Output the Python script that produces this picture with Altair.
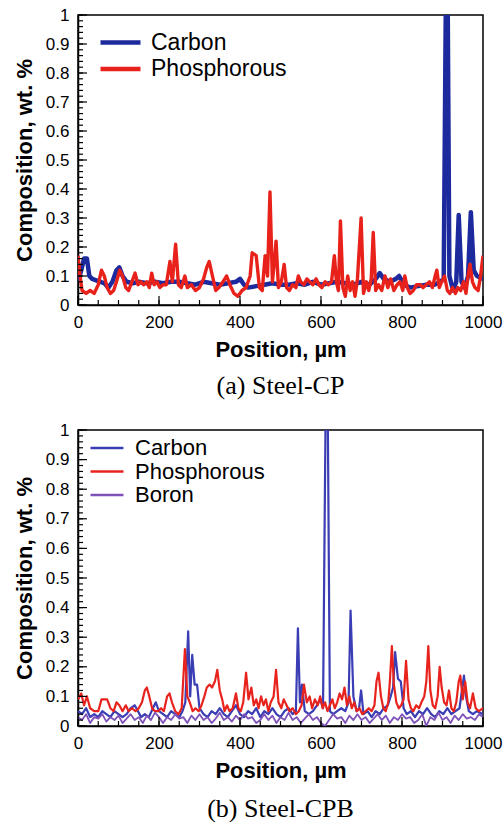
import altair as alt
import pandas as pd

# ---------------- Panel (a) Steel-CP ----------------
a_carbon_pos = [0, 8, 15, 22, 28, 35, 45, 55, 65, 75, 85, 95, 102, 110, 120, 135, 150, 170, 190,
                210, 230, 250, 270, 290, 310, 330, 350, 370, 390, 400, 410, 420, 440, 460, 480,
                500, 520, 540, 560, 580, 600, 620, 640, 660, 680, 700, 720, 735, 745, 755, 770,
                785, 793, 805, 820, 840, 860, 880, 895, 903, 908, 913, 917, 926, 934, 940, 947,
                955, 963, 970, 977, 985, 1000]
a_carbon_val = [0.08, 0.12, 0.16, 0.16, 0.10, 0.09, 0.085, 0.08, 0.075, 0.06, 0.08, 0.12, 0.13, 0.10,
                0.08, 0.075, 0.08, 0.075, 0.08, 0.075, 0.08, 0.08, 0.075, 0.07, 0.08, 0.075, 0.07,
                0.075, 0.08, 0.09, 0.07, 0.06, 0.065, 0.07, 0.075, 0.07, 0.07, 0.075, 0.07, 0.08,
                0.07, 0.075, 0.08, 0.075, 0.07, 0.08, 0.07, 0.09, 0.11, 0.09, 0.08, 0.09, 0.10,
                0.07, 0.06, 0.065, 0.07, 0.07, 0.08, 0.09, 1.0, 1.0, 0.10, 0.05, 0.08, 0.31, 0.08,
                0.06, 0.10, 0.32, 0.12, 0.10, 0.09]

a_phos_pos = [0, 5, 10, 20, 30, 40, 50, 58, 65, 72, 80, 88, 95, 103, 110, 118, 125, 133, 141, 148,
              155, 162, 170, 176, 182, 188, 195, 202, 210, 218, 227, 233, 241, 248, 255, 264, 270,
              280, 290, 300, 310, 318, 324, 332, 340, 348, 358, 367, 375, 385, 395, 405, 415, 425,
              430, 440, 448, 455, 462, 468, 474, 480, 485, 489, 495, 502, 509, 515, 522, 530, 538,
              544, 550, 558, 565, 572, 580, 588, 595, 602, 610, 618, 626, 633, 638, 643, 648, 654,
              660, 666, 672, 678, 684, 690, 699, 705, 712, 718, 724, 729, 735, 742, 750, 758, 765,
              772, 780, 788, 795, 802, 807, 813, 820, 828, 836, 845, 852, 860, 868, 875, 882, 886,
              892, 898, 905, 912, 918, 925, 932, 938, 945, 952, 958, 963, 968, 974, 980, 988, 994,
              1000]
a_phos_val = [0.17, 0.10, 0.05, 0.04, 0.05, 0.04, 0.07, 0.12, 0.10, 0.06, 0.04, 0.05, 0.08, 0.12,
              0.10, 0.06, 0.05, 0.08, 0.11, 0.07, 0.08, 0.07, 0.08, 0.06, 0.11, 0.07, 0.08, 0.06,
              0.07, 0.07, 0.15, 0.08, 0.21, 0.07, 0.06, 0.10, 0.06, 0.07, 0.05, 0.06, 0.09, 0.13,
              0.15, 0.10, 0.05, 0.06, 0.08, 0.10, 0.07, 0.04, 0.03, 0.05, 0.06, 0.10, 0.18, 0.17,
              0.06, 0.05, 0.17, 0.10, 0.39, 0.08, 0.15, 0.22, 0.06, 0.08, 0.14, 0.06, 0.05, 0.07,
              0.06, 0.10, 0.08, 0.07, 0.09, 0.08, 0.07, 0.09, 0.07, 0.06, 0.08, 0.07, 0.08, 0.17,
              0.08, 0.05, 0.29, 0.06, 0.03, 0.10, 0.05, 0.08, 0.03, 0.09, 0.30, 0.04, 0.08, 0.05,
              0.09, 0.25, 0.05, 0.07, 0.05, 0.10, 0.06, 0.09, 0.05, 0.07, 0.08, 0.05, 0.10, 0.06,
              0.04, 0.05, 0.07, 0.07, 0.06, 0.07, 0.08, 0.06, 0.10, 0.12, 0.06, 0.08, 0.10, 0.05,
              0.04, 0.06, 0.04, 0.06, 0.05, 0.08, 0.04, 0.10, 0.14, 0.08, 0.06, 0.05, 0.10, 0.17]

# ---------------- Panel (b) Steel-CPB ----------------
b_carbon_pos = [0, 10, 20, 30, 40, 50, 60, 70, 80, 90, 100, 110, 120, 130, 140, 148, 156, 165, 175,
                185, 192, 200, 210, 220, 230, 240, 250, 258, 265, 272, 277, 282, 288, 294, 300, 310,
                320, 330, 340, 350, 360, 370, 380, 390, 400, 410, 420, 430, 440, 450, 460, 470, 480,
                490, 500, 510, 520, 530, 538, 543, 548, 553, 560, 570, 580, 590, 598, 605, 611, 617,
                622, 630, 640, 650, 660, 668, 673, 680, 688, 694, 699, 705, 715, 725, 735, 745, 755,
                765, 772, 778, 783, 790, 797, 804, 812, 822, 832, 842, 852, 862, 872, 882, 892, 902,
                912, 922, 932, 942, 948, 953, 958, 965, 975, 985, 1000]
b_carbon_val = [0.05, 0.04, 0.06, 0.03, 0.04, 0.03, 0.05, 0.04, 0.03, 0.05, 0.04, 0.03, 0.04, 0.06,
                0.07, 0.05, 0.03, 0.04, 0.03, 0.06, 0.08, 0.05, 0.04, 0.03, 0.05, 0.04, 0.03, 0.05,
                0.08, 0.32, 0.10, 0.24, 0.14, 0.14, 0.06, 0.04, 0.03, 0.05, 0.04, 0.06, 0.04, 0.03,
                0.05, 0.07, 0.04, 0.03, 0.05, 0.04, 0.06, 0.03, 0.05, 0.04, 0.06, 0.04, 0.03, 0.05,
                0.06, 0.04, 0.05, 0.33, 0.08, 0.14, 0.05, 0.04, 0.05, 0.07, 0.09, 0.06, 1.0, 1.0,
                0.05, 0.04, 0.05, 0.06, 0.05, 0.08, 0.39, 0.10, 0.05, 0.06, 0.12, 0.04, 0.05, 0.03,
                0.05, 0.04, 0.06, 0.07, 0.10, 0.13, 0.25, 0.16, 0.15, 0.06, 0.04, 0.05, 0.03, 0.05,
                0.04, 0.06, 0.04, 0.03, 0.05, 0.04, 0.06, 0.04, 0.05, 0.06, 0.12, 0.17, 0.10, 0.05,
                0.04, 0.05, 0.04]

b_phos_pos = [0, 8, 15, 22, 30, 40, 50, 58, 65, 72, 80, 88, 95, 102, 110, 118, 125, 133, 142, 150,
              158, 165, 170, 176, 183, 190, 198, 205, 212, 220, 226, 232, 240, 248, 256, 264, 270,
              276, 283, 290, 298, 305, 312, 318, 325, 331, 338, 344, 350, 356, 362, 368, 374, 382,
              390, 396, 402, 408, 415, 421, 428, 434, 440, 446, 452, 458, 464, 470, 476, 483, 489,
              495, 502, 508, 515, 522, 530, 538, 545, 552, 558, 565, 572, 578, 585, 592, 598, 604,
              610, 616, 622, 628, 634, 640, 646, 652, 658, 664, 670, 676, 682, 688, 695, 702, 710,
              718, 725, 732, 737, 742, 748, 754, 760, 766, 770, 775, 780, 786, 792, 798, 804, 810,
              816, 822, 828, 835, 842, 848, 855, 860, 865, 870, 876, 882, 888, 893, 898, 904, 910,
              916, 922, 928, 934, 940, 944, 950, 956, 962, 968, 975, 982, 990, 1000]
b_phos_val = [0.09, 0.11, 0.07, 0.10, 0.06, 0.05, 0.05, 0.09, 0.09, 0.09, 0.06, 0.05, 0.08, 0.07,
              0.05, 0.07, 0.05, 0.06, 0.05, 0.06, 0.08, 0.12, 0.13, 0.10, 0.06, 0.05, 0.05, 0.06,
              0.05, 0.10, 0.11, 0.08, 0.05, 0.04, 0.06, 0.26, 0.10, 0.08, 0.05, 0.06, 0.05, 0.07,
              0.10, 0.13, 0.14, 0.13, 0.15, 0.19, 0.12, 0.09, 0.05, 0.07, 0.05, 0.06, 0.11, 0.06,
              0.05, 0.08, 0.18, 0.09, 0.13, 0.07, 0.09, 0.06, 0.10, 0.07, 0.09, 0.05, 0.08, 0.10,
              0.19, 0.08, 0.06, 0.09, 0.07, 0.05, 0.06, 0.04, 0.05, 0.07, 0.14, 0.08, 0.10, 0.06,
              0.09, 0.07, 0.10, 0.06, 0.08, 0.05, 0.07, 0.09, 0.06, 0.08, 0.11, 0.09, 0.13, 0.07,
              0.10, 0.06, 0.08, 0.05, 0.06, 0.04, 0.05, 0.06, 0.05, 0.07, 0.15, 0.18, 0.10, 0.06,
              0.05, 0.08, 0.15, 0.27, 0.14, 0.08, 0.06, 0.07, 0.09, 0.22, 0.09, 0.06, 0.05, 0.07,
              0.06, 0.08, 0.10, 0.15, 0.27, 0.12, 0.07, 0.06, 0.10, 0.20, 0.13, 0.08, 0.07, 0.12,
              0.06, 0.05, 0.08, 0.15, 0.17, 0.09, 0.15, 0.08, 0.06, 0.11, 0.06, 0.05, 0.06]

b_boron_pos = [0, 10, 20, 30, 40, 50, 60, 70, 80, 90, 100, 110, 120, 130, 140, 150, 160, 170, 180,
               190, 200, 210, 220, 230, 240, 250, 260, 270, 280, 290, 300, 310, 320, 330, 340, 350,
               360, 370, 380, 390, 400, 410, 420, 430, 440, 450, 460, 470, 480, 490, 500, 510, 520,
               530, 540, 550, 560, 570, 580, 590, 600, 610, 620, 630, 640, 650, 660, 670, 680, 690,
               700, 710, 720, 730, 740, 750, 760, 770, 780, 790, 800, 810, 820, 830, 840, 850, 860,
               870, 880, 890, 900, 910, 920, 930, 940, 950, 960, 970, 980, 990, 1000]
b_boron_val = [0.03, 0.02, 0.04, 0.01, 0.03, 0.025, 0.04, 0.015, 0.03, 0.02, 0.035, 0.01, 0.025,
               0.04, 0.02, 0.03, 0.01, 0.035, 0.02, 0.045, 0.03, 0.01, 0.03, 0.02, 0.04, 0.025,
               0.03, 0.01, 0.035, 0.02, 0.04, 0.02, 0.03, 0.01, 0.025, 0.045, 0.02, 0.03, 0.015,
               0.035, 0.02, 0.04, 0.025, 0.03, 0.01, 0.02, 0.04, 0.02, 0.035, 0.01, 0.03, 0.02,
               0.045, 0.02, 0.03, 0.01, 0.025, 0.04, 0.02, 0.03, 0.01, 0.0, 0.02, 0.04, 0.025,
               0.03, 0.01, 0.035, 0.02, 0.04, 0.02, 0.03, 0.01, 0.025, 0.04, 0.02, 0.035, 0.01,
               0.03, 0.02, 0.04, 0.025, 0.03, 0.01, 0.02, 0.04, 0.0, 0.03, 0.02, 0.045, 0.02,
               0.03, 0.01, 0.035, 0.02, 0.04, 0.025, 0.03, 0.02, 0.04, 0.03]

# ticks
x_major = [0, 200, 400, 600, 800, 1000]
x_minor = [i * 50 for i in range(21)]
y_major = [0, 0.1, 0.2, 0.3, 0.4, 0.5, 0.6, 0.7, 0.8, 0.9, 1.0]
y_minor = [i / 50 for i in range(51)]

W = 405
SANS = "Liberation Sans"
SERIF = "Liberation Serif"

xscale = alt.Scale(domain=[0, 1000], nice=False, zero=False)
yscale = alt.Scale(domain=[0, 1], nice=False)


def xaxis():
    return alt.Axis(title="Position, µm", values=x_major, format="d", labelFlush=False,
                    labelOverlap=False, ticks=False, grid=False, labelPadding=9,
                    titlePadding=9)


def yaxis():
    return alt.Axis(title="Composition, wt. %", values=y_major, format="~g", labelFlush=False,
                    labelOverlap=False, ticks=False, grid=False, labelPadding=9,
                    titlePadding=9)


def panel(series, H, caption, cap_offset, legend_kw, sw_legend):
    names = [s[0] for s in series]
    colors = [s[3] for s in series]
    color_scale = alt.Scale(domain=names, range=colors)
    layers = []
    for name, pos, val, col, sw in series:
        df = pd.DataFrame({"Position": pos, "Composition": val, "Element": name})
        leg = alt.Legend(**legend_kw, symbolStrokeWidth=sw_legend)
        layers.append(
            alt.Chart(df).mark_line(strokeWidth=sw, clip=True, strokeJoin="round").encode(
                x=alt.X("Position:Q", scale=xscale, axis=xaxis()),
                y=alt.Y("Composition:Q", scale=yscale, axis=yaxis()),
                color=alt.Color("Element:N", scale=color_scale, legend=leg),
            )
        )
    # inward ticks
    ymaj = pd.DataFrame({"Composition": y_major})
    ymin = pd.DataFrame({"Composition": y_minor})
    xmaj = pd.DataFrame({"Position": x_major})
    xmin = pd.DataFrame({"Position": x_minor})
    for d, ln in [(ymaj, 9), (ymin, 5)]:
        layers.append(alt.Chart(d).mark_rule(color="black", strokeWidth=1.2).encode(
            y=alt.Y("Composition:Q", scale=yscale, axis=yaxis()),
            x=alt.value(0), x2=alt.value(ln)))
    for d, ln in [(xmaj, 9), (xmin, 5)]:
        layers.append(alt.Chart(d).mark_rule(color="black", strokeWidth=1.2).encode(
            x=alt.X("Position:Q", scale=xscale, axis=xaxis()),
            y=alt.value(H), y2=alt.value(H - ln)))
    return alt.layer(*layers).properties(
        width=W, height=H,
        title=alt.TitleParams(caption, orient="bottom", font=SERIF, fontSize=26,
                              fontWeight="normal", color="black", offset=cap_offset),
    )


top = panel(
    [("Carbon", a_carbon_pos, a_carbon_val, "#1c2a9e", 4.5),
     ("Phosphorous", a_phos_pos, a_phos_val, "#e8221b", 3.4)],
    290, "(a) Steel-CP", 13,
    dict(orient="none", legendX=30, legendY=15, title=None, symbolType="M-2,0L2,0",
         symbolSize=400, labelOffset=18, rowPadding=1.5, padding=0,
         labelFont=SANS, labelFontSize=23, labelColor="black"),
    4.5,
)

bottom = panel(
    [("Carbon", b_carbon_pos, b_carbon_val, "#3a3db3", 2.2),
     ("Phosphorous", b_phos_pos, b_phos_val, "#e8231d", 2.2),
     ("Boron", b_boron_pos, b_boron_val, "#7f52ba", 1.8)],
    296, "(b) Steel-CPB", 15,
    dict(orient="none", legendX=18, legendY=7, title=None, symbolType="M-2,0L2,0",
         symbolSize=272, labelOffset=17, rowPadding=1.5, padding=0,
         labelFont=SANS, labelFontSize=22, labelColor="black"),
    2.5,
)

chart = alt.vconcat(top, bottom, spacing=20).resolve_scale(color="independent").properties(
    padding={"left": 12, "top": 5, "right": 0, "bottom": 0}
).configure_view(stroke="black", strokeWidth=1.5).configure_axis(
    domainColor="black", domainWidth=1.5, labelFont=SANS, labelFontSize=17, labelColor="black",
    titleFont=SANS, titleFontSize=22, titleFontWeight="bold", titleColor="black",
).configure_legend(symbolFillColor="transparent")

chart.save("out.html", embed_options={"renderer": "svg", "actions": False})
